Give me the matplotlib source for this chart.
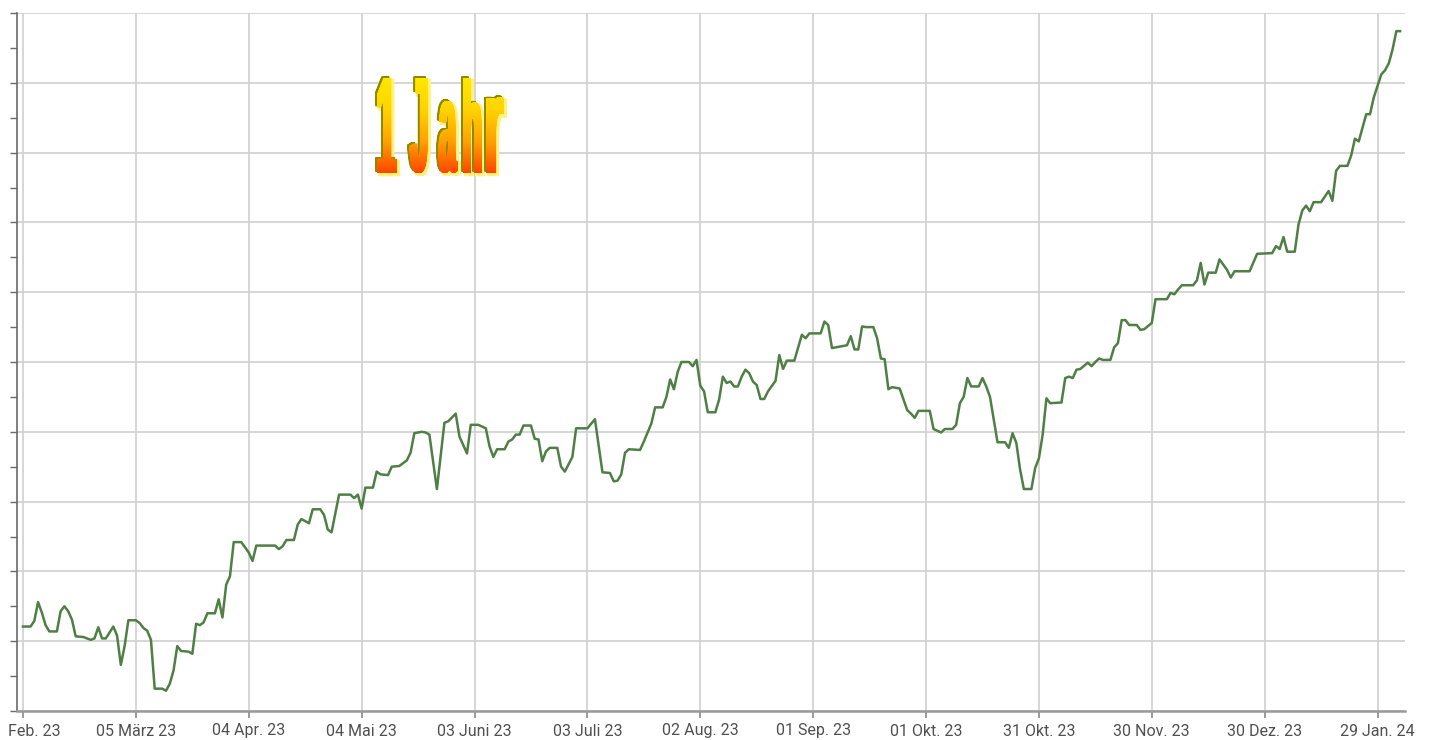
import numpy as np
import matplotlib
matplotlib.use('Agg')
import matplotlib.pyplot as plt
import matplotlib.dates as mdates
from matplotlib.textpath import TextPath
from matplotlib.font_manager import FontProperties
from matplotlib.patches import PathPatch
from matplotlib.path import Path
from matplotlib.transforms import Affine2D, ScaledTranslation
from matplotlib.colors import LinearSegmentedColormap

# Kursverlauf 1 Jahr (Werte ohne Achsenbeschriftung, 0..100 Gitter-Einheiten)
start = np.datetime64('2023-02-03')

days = [0, 2, 3, 4, 5, 6, 7, 9, 10, 11, 12, 13, 14, 16, 18, 19, 20, 21, 22, 24,
        25, 26, 27, 28, 30, 31, 32, 33, 34, 35, 37, 38, 39, 40, 41, 42, 44, 45, 46, 47,
        48, 49, 51, 52, 53, 54, 55, 56, 58, 60, 61, 62, 67, 68, 69, 70, 72, 73, 74, 76,
        77, 79, 80, 81, 82, 84, 87, 88, 89, 90, 91, 93, 94, 95, 97, 98, 100, 102, 103, 104,
        106, 107, 108, 110, 112, 113, 115, 116, 118, 119, 121, 123, 124, 125, 126, 128, 129, 130, 131, 132,
        133, 135, 136, 137, 138, 139, 140, 142, 143, 144, 146, 147, 150, 152, 154, 156, 157, 158, 159, 160,
        161, 164, 165, 167, 168, 170, 171, 172, 173, 174, 175, 177, 178, 179, 180, 181, 182, 184, 185, 186,
        187, 188, 189, 190, 191, 192, 193, 194, 195, 196, 197, 198, 200, 201, 202, 203, 205, 207, 208, 209,
        212, 213, 214, 215, 217, 219, 220, 221, 222, 223, 224, 226, 227, 228, 229, 230, 231, 233, 235, 236,
        237, 238, 241, 242, 244, 245, 247, 248, 249, 250, 251, 252, 254, 255, 256, 257, 259, 261, 262, 263,
        264, 265, 266, 268, 269, 270, 271, 272, 273, 276, 277, 278, 279, 280, 281, 283, 284, 285, 286, 287,
        289, 290, 291, 292, 293, 294, 296, 297, 298, 300, 301, 304, 305, 306, 307, 308, 311, 312, 313, 314,
        315, 317, 318, 320, 321, 322, 326, 328, 332, 333, 334, 335, 336, 338, 339, 340, 341, 342, 343, 345,
        347, 348, 349, 350, 352, 353, 354, 355, 357, 358, 359, 361, 362, 363, 364, 365, 366]

values = [12.1, 12.1, 12.9, 15.6, 14.1, 12.3, 11.4, 11.4, 14.3, 15.0, 14.3, 13.1, 10.7, 10.6, 10.2, 10.4, 12.0, 10.4, 10.4, 12.1,
          10.8, 6.6, 9.3, 13.0, 13.0, 12.6, 11.9, 11.5, 10.2, 3.2, 3.2, 2.9, 3.9, 5.8, 9.3, 8.6, 8.5, 8.2, 12.5, 12.3,
          12.7, 14.0, 14.0, 16.0, 13.4, 18.1, 19.3, 24.2, 24.2, 22.7, 21.5, 23.7, 23.7, 23.2, 23.6, 24.5, 24.5, 26.7, 27.5, 26.9,
          28.9, 28.9, 28.1, 26.0, 25.6, 31.0, 31.0, 30.5, 31.0, 29.0, 32.0, 32.0, 34.3, 33.9, 33.8, 35.0, 35.1, 35.9, 37.0, 39.8,
          40.0, 39.9, 39.6, 31.8, 41.3, 41.5, 42.6, 39.3, 36.9, 41.0, 41.0, 40.5, 37.9, 36.4, 37.5, 37.5, 38.6, 38.9, 39.6, 39.6,
          40.9, 40.9, 39.0, 38.9, 35.8, 37.2, 37.7, 37.7, 35.0, 34.3, 36.4, 40.5, 40.5, 41.8, 34.2, 34.1, 32.9, 33.0, 33.9, 37.0,
          37.5, 37.4, 38.6, 41.2, 43.5, 43.5, 45.0, 47.5, 46.1, 48.6, 50.0, 50.0, 49.4, 50.3, 46.6, 45.8, 42.8, 42.8, 44.6, 47.9,
          47.0, 47.2, 46.5, 46.5, 47.9, 48.9, 48.4, 47.2, 46.7, 44.7, 44.7, 45.8, 47.3, 51.0, 49.0, 50.2, 50.2, 53.9, 53.4, 54.1,
          54.1, 55.8, 55.3, 52.0, 52.2, 52.4, 53.7, 51.8, 51.8, 55.1, 55.0, 55.0, 53.4, 50.5, 50.4, 46.1, 46.4, 46.2, 43.1, 42.6,
          42.0, 43.0, 43.0, 40.4, 39.9, 40.4, 40.4, 41.0, 44.1, 45.0, 47.7, 46.5, 46.5, 47.7, 46.5, 45.0, 38.5, 38.5, 37.7, 39.8,
          38.4, 34.6, 31.8, 31.8, 34.8, 36.2, 39.6, 44.8, 44.1, 44.2, 47.7, 47.9, 47.7, 48.9, 49.0, 49.9, 49.4, 50.0, 50.5, 50.3,
          50.3, 52.1, 52.7, 56.0, 56.0, 55.3, 55.3, 54.6, 54.7, 55.6, 59.0, 59.0, 59.9, 59.7, 60.4, 61.0, 61.0, 61.7, 64.2, 61.1,
          62.8, 62.8, 64.7, 63.2, 62.1, 63.0, 63.0, 65.5, 65.6, 66.6, 66.2, 67.9, 65.8, 65.8, 69.7, 71.7, 72.4, 71.6, 72.9, 72.9,
          74.5, 73.1, 77.4, 78.1, 78.1, 79.6, 82.0, 81.6, 85.5, 85.5, 87.9, 91.2, 91.8, 92.8, 94.8, 97.4, 97.4]

tick_days = [0, 30, 60, 90, 120, 150, 180, 210, 240, 270, 300, 330, 360]
tick_labels = ['Feb. 23', '05 März 23', '04 Apr. 23', '04 Mai 23', '03 Juni 23', '03 Juli 23',
               '02 Aug. 23', '01 Sep. 23', '01 Okt. 23', '31 Okt. 23', '30 Nov. 23', '30 Dez. 23', '29 Jan. 24']

title_chars = ['1', 'J', 'a', 'h', 'r']

dates = start + np.array(days, dtype='timedelta64[D]')
t0 = mdates.date2num(start)

fig = plt.figure(figsize=(14.35, 7.4), dpi=100)
ax = fig.add_axes([17 / 1435, 29 / 740, 1388 / 1435, 698 / 740])

ax.plot(dates, values, color='#4e7f44', lw=1.8, zorder=3)

ax.set_xlim(t0 - 1.6, t0 + 367.3)
ax.set_ylim(0, 100)
ax.set_xticks(t0 + np.array(tick_days))
ax.set_xticklabels(tick_labels, fontsize=11.5, color='#505050', family=['Roboto', 'DejaVu Sans'])
ax.set_yticks(np.arange(0, 101, 10))
ax.set_yticks(np.arange(5, 100, 10), minor=True)
ax.set_yticklabels([])

ax.set_axisbelow(True)
ax.grid(True, which='major', color='#d0d0d0', lw=1.2)
for s in ['top', 'right']:
    ax.spines[s].set_visible(False)
ax.spines['left'].set_color('#6a6a6a')
ax.spines['left'].set_linewidth(1.2)
ax.spines['bottom'].set_color('#9a9a9a')
ax.spines['bottom'].set_linewidth(1.8)
ax.tick_params(axis='x', length=5, width=1.2, color='#8a8a8a', pad=4)
ax.tick_params(axis='y', which='both', length=5, width=1.0, color='#6a6a6a')

# erstes Label nach rechts geschoben, damit es nicht abgeschnitten wird
first = ax.get_xticklabels()[0]
first.set_ha('left')
first.set_transform(first.get_transform() + ScaledTranslation(-0.15, 0, fig.dpi_scale_trans))

# "1 Jahr" im WordArt-Stil: schmale fette Buchstaben, Verlauf gelb -> rot, Schatten
ov = fig.add_axes([0, 0, 1, 1])
ov.axis('off')
fp = FontProperties(family='Liberation Sans', weight='bold')
base, top = 173, 78
char_x = [(377, 397), (409, 428), (438, 458), (463, 482), (486, 504)]
char_top = [78, 78, 101, 78, 97]
thick = 3.5

paths = []
for ch, (cx0, cx1), ct in zip(title_chars, char_x, char_top):
    tp = TextPath((0, 0), ch, size=100, prop=fp)
    bb = tp.get_extents()
    tr = (Affine2D().translate(-bb.x0, -bb.y0)
          .scale((cx1 - cx0 - thick) / bb.width, -(base - ct) / bb.height)
          .translate(cx0, base))
    thin = tr.transform_path(tp)
    paths += [Affine2D().translate(dx, 0).transform_path(thin)
              for dx in np.arange(0, thick + 0.01, 0.5)]
path = Path.make_compound_path(*paths)

glow = PathPatch(Affine2D().translate(2, 2).transform_path(path),
                 fc='#fff27a', ec='#fff27a', lw=1.5)
shadow = PathPatch(Affine2D().translate(-2, -1.5).transform_path(path),
                   fc='#8c8a00', ec='none')
main = PathPatch(path, fc='none', ec='none')
ov.add_patch(glow)
ov.add_patch(shadow)
ov.add_patch(main)

cmap = LinearSegmentedColormap.from_list('wordart', ['#ffe800', '#ffd400', '#ffa000', '#ff4000'])
grad = np.linspace(0, 1, 256).reshape(-1, 1)
im = ov.imshow(grad, cmap=cmap, extent=(370, 512, base + 2, top - 2),
               aspect='auto', origin='upper', zorder=5)
im.set_clip_path(main)

ov.set_xlim(0, 1435)
ov.set_ylim(740, 0)

fig.savefig('out.png', dpi=100, facecolor='white')
